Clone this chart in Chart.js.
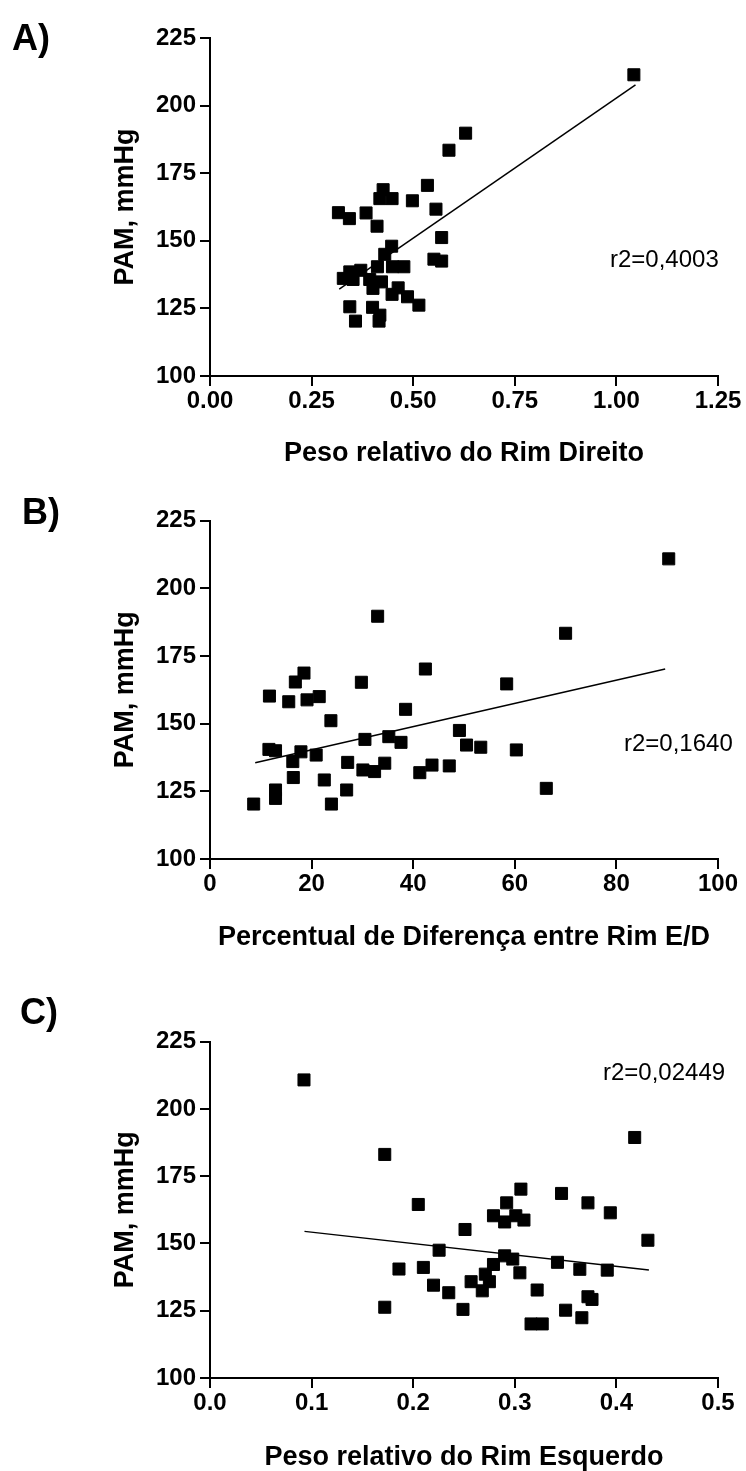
<!DOCTYPE html>
<html>
<head>
<meta charset="utf-8">
<script src="https://cdn.jsdelivr.net/npm/chart.js@4.4.1/dist/chart.umd.min.js"></script>
<style>
body{margin:0;background:#fff;width:746px;height:1471px;position:relative;overflow:hidden;font-family:Arial,"Liberation Sans",sans-serif}
.box{position:absolute;left:0;width:746px}
.tag{position:absolute;font-weight:bold;font-size:36px;line-height:36px;color:#000}
.r2{position:absolute;font-size:24px;line-height:24px;color:#000;white-space:nowrap}
</style>
</head>
<body>
<div class="box" style="top:0;height:480px"><canvas id="cA" width="746" height="480"></canvas></div>
<div class="box" style="top:485px;height:480px"><canvas id="cB" width="746" height="480"></canvas></div>
<div class="box" style="top:990px;height:481px"><canvas id="cC" width="746" height="481"></canvas></div>
<div class="tag" style="left:12px;top:20px">A)</div>
<div class="tag" style="left:22px;top:494px">B)</div>
<div class="tag" style="left:20px;top:994px">C)</div>
<div class="r2" id="rA" style="left:610px;top:247px"></div>
<div class="r2" id="rB" style="left:624px;top:731px"></div>
<div class="r2" id="rC" style="left:603px;top:1060px"></div>
<script>
// A) peso relativo do rim direito x PAM
var xA = [1.043,0.629,0.588,0.535,0.426,0.418,0.448,0.498,0.556,0.316,0.343,0.384,0.411,0.570,0.447,0.430,0.551,0.570,0.412,0.449,0.477,0.371,0.344,0.328,0.352,0.393,0.422,0.401,0.463,0.448,0.486,0.514,0.344,0.400,0.418,0.358,0.416];
var yA = [211.4,189.8,183.5,170.5,168.9,165.6,165.6,164.8,161.7,160.4,158.2,160.3,155.4,151.2,148.0,145.0,143.2,142.5,140.4,140.4,140.4,139.1,138.5,136.1,135.7,135.7,134.8,132.4,132.6,130.2,129.3,126.2,125.6,125.4,122.5,120.3,120.3];
var fitAx = [0.318, 1.047];
var fitAy = [132.1, 207.7];

// B) percentual de diferenca E/D x PAM
var xB = [33.0,29.8,18.5,16.8,11.7,15.5,19.1,21.5,23.8,38.5,30.5,35.2,37.6,11.6,12.9,17.9,20.9,16.3,27.1,30.1,32.4,34.4,41.3,43.7,16.4,22.5,12.9,12.9,26.9,8.6,23.9,49.1,50.5,53.3,60.3,47.1,66.2,90.3,70.0,42.4,58.4];
var yB = [189.7,165.3,168.7,165.4,160.2,158.1,158.8,160.0,151.1,155.3,144.2,145.2,143.1,140.5,140.0,139.6,138.4,136.0,135.7,132.9,132.3,135.4,131.9,134.7,130.1,129.2,125.5,122.4,125.5,120.3,120.3,147.5,142.1,141.3,140.3,134.4,126.1,210.9,183.4,170.2,164.7];
var fitBx = [8.9, 89.6];
var fitBy = [135.6, 170.2];

// C) peso relativo do rim esquerdo x PAM
var xC = [0.0925,0.172,0.205,0.2255,0.251,0.418,0.306,0.292,0.346,0.372,0.394,0.279,0.290,0.301,0.309,0.431,0.290,0.298,0.279,0.342,0.364,0.391,0.186,0.210,0.305,0.271,0.220,0.257,0.275,0.235,0.268,0.322,0.372,0.376,0.172,0.249,0.350,0.366,0.316,0.327];
var yC = [210.8,183.1,164.5,147.5,155.2,189.4,170.2,165.1,168.6,165.1,161.4,160.3,158.0,160.3,158.7,151.2,145.4,144.2,142.2,143.0,140.4,140.1,140.5,141.1,139.1,138.6,134.5,135.8,135.8,131.7,132.4,132.7,130.2,129.2,126.3,125.5,125.2,122.4,120.1,120.1];
var fitCx = [0.093, 0.432];
var fitCy = [154.5, 140.1];

var yTicks = ['100','125','150','175','200','225'];
var xTicksA = ['0.00','0.25','0.50','0.75','1.00','1.25'];
var xTicksB = ['0','20','40','60','80','100'];
var xTicksC = ['0.0','0.1','0.2','0.3','0.4','0.5'];
var yTitle = 'PAM, mmHg';
var xTitles = ['Peso relativo do Rim Direito', 'Percentual de Diferença entre Rim E/D', 'Peso relativo do Rim Esquerdo'];
var r2Labels = ['r2=0,4003', 'r2=0,1640', 'r2=0,02449'];

var F = 'Arial, "Liberation Sans", sans-serif';

document.getElementById('rA').textContent = r2Labels[0];
document.getElementById('rB').textContent = r2Labels[1];
document.getElementById('rC').textContent = r2Labels[2];

function pairs(xs, ys) {
	return xs.map(function(x, i) { return {x: x, y: ys[i]}; });
}

function makeChart(id, xs, ys, fx, fy, xTicks, xMax, xStep, xTitle, padTop, axisH, titlePB) {
	return new Chart(document.getElementById(id), {
		type: 'scatter',
		data: {
			datasets: [
				{
					data: pairs(fx, fy),
					showLine: true,
					borderColor: '#000',
					borderWidth: 1.5,
					pointRadius: 0,
					fill: false
				},
				{
					data: pairs(xs, ys),
					pointStyle: 'rect',
					pointRadius: 8.5,
					backgroundColor: '#000',
					borderColor: '#000',
					borderWidth: 1
				}
			]
		},
		options: {
			responsive: false,
			animation: false,
			events: [],
			layout: { padding: { left: 105, right: 28, top: padTop, bottom: 0 } },
			plugins: { legend: { display: false }, tooltip: { enabled: false } },
			scales: {
				x: {
					type: 'linear', min: 0, max: xMax,
					ticks: {
						stepSize: xStep, autoSkip: false, maxRotation: 0, padding: 1, color: '#000',
						font: { family: F, size: 24, weight: 'bold' },
						callback: function(v, i) { return xTicks[i]; }
					},
					grid: { drawOnChartArea: false, drawTicks: true, tickLength: 10, color: '#000', lineWidth: 2 },
					border: { display: true, color: '#000', width: 2 },
					title: {
						display: true, text: xTitle, color: '#000',
						font: { family: F, size: 27, weight: 'bold', lineHeight: 1 },
						padding: { top: 0, bottom: titlePB }
					},
					afterFit: function(s) { s.height = axisH; }
				},
				y: {
					type: 'linear', min: 100, max: 225,
					ticks: {
						stepSize: 25, autoSkip: false, padding: 4, color: '#000',
						font: { family: F, size: 24, weight: 'bold' },
						callback: function(v, i) { return yTicks[i]; }
					},
					grid: { drawOnChartArea: false, drawTicks: true, tickLength: 10, color: '#000', lineWidth: 2 },
					border: { display: true, color: '#000', width: 2 },
					title: {
						display: true, text: yTitle, color: '#000',
						font: { family: F, size: 27, weight: 'bold', lineHeight: 1 },
						padding: { top: 7.5, bottom: 0 }
					},
					afterFit: function(s) { s.width = 105; }
				}
			}
		}
	});
}

makeChart('cA', xA, yA, fitAx, fitAy, xTicksA, 1.25, 0.25, xTitles[0], 38, 104, 12.5);
makeChart('cB', xB, yB, fitBx, fitBy, xTicksB, 100, 20, xTitles[1], 35.7, 106, 13.5);
makeChart('cC', xC, yC, fitCx, fitCy, xTicksC, 0.5, 0.1, xTitles[2], 51.7, 93, 0);
</script>
</body>
</html>
